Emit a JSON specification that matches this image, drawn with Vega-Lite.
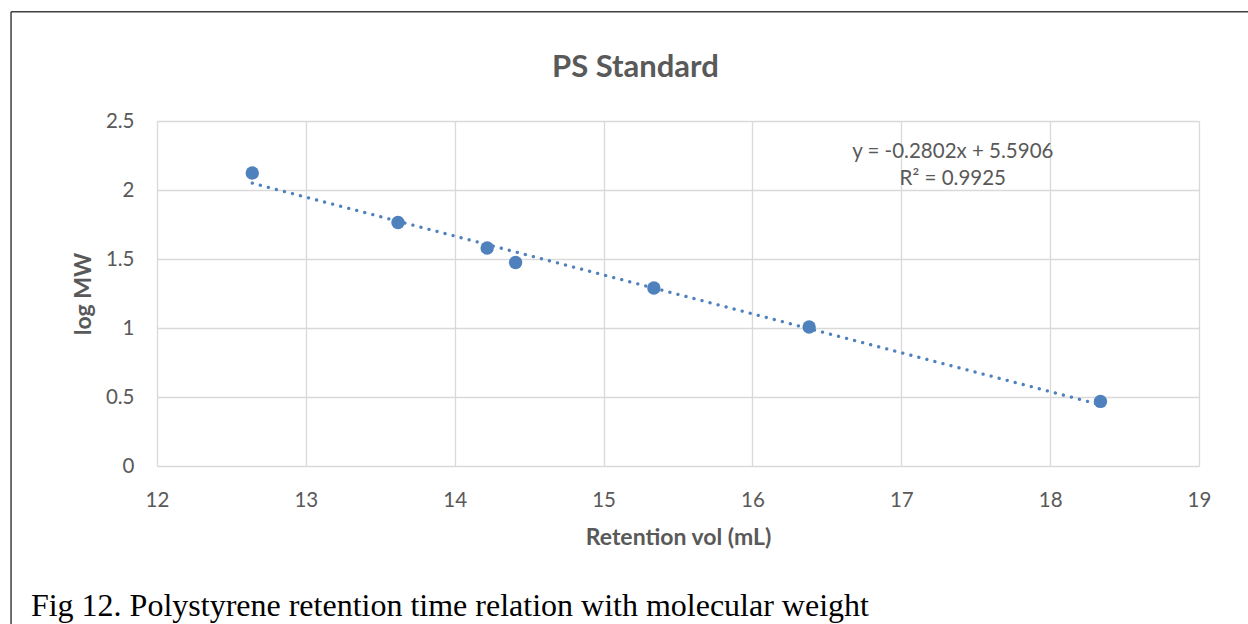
{
  "$schema": "https://vega.github.io/schema/vega-lite/v6.json",
  "width": 1042,
  "height": 345,
  "autosize": {"type": "none"},
  "padding": {"left": 157, "top": 121, "right": 49, "bottom": 158},
  "background": "white",
  "config": {
    "view": {"stroke": null},
    "font": "Lato",
    "axis": {
      "grid": true,
      "gridColor": "#d9d9d9",
      "gridWidth": 1.3,
      "domain": false,
      "ticks": false,
      "tickSize": 0,
      "labelFlush": false,
      "labelFont": "Lato",
      "labelFontSize": 20.5,
      "labelColor": "#595959",
      "titleFont": "Lato",
      "titleFontSize": 23,
      "titleFontWeight": "bold",
      "titleColor": "#595959"
    }
  },
  "datasets": {
    "ps": [
      {"rv": 12.64, "logmw": 2.123},
      {"rv": 13.619, "logmw": 1.765},
      {"rv": 14.218, "logmw": 1.58},
      {"rv": 14.409, "logmw": 1.475},
      {"rv": 15.338, "logmw": 1.29},
      {"rv": 16.381, "logmw": 1.007},
      {"rv": 18.338, "logmw": 0.468}
    ],
    "one": [{}]
  },
  "layer": [
    {
      "data": {"name": "ps"},
      "transform": [{"regression": "logmw", "on": "rv"}],
      "mark": {"type": "line", "color": "#4f81bd", "strokeWidth": 3.3, "strokeDash": [0.1, 8.2], "strokeCap": "round"},
      "encoding": {
        "x": {"field": "rv", "type": "quantitative"},
        "y": {"field": "logmw", "type": "quantitative"}
      }
    },
    {
      "data": {"name": "ps"},
      "mark": {"type": "circle", "color": "#4f81bd", "opacity": 1, "size": 180},
      "encoding": {
        "x": {
          "field": "rv",
          "type": "quantitative",
          "scale": {"domain": [12, 19], "nice": false, "zero": false},
          "axis": {"values": [12, 13, 14, 15, 16, 17, 18, 19], "format": "~g", "title": "Retention vol (mL)", "labelPadding": 24, "titlePadding": 16}
        },
        "y": {
          "field": "logmw",
          "type": "quantitative",
          "scale": {"domain": [0, 2.5], "nice": false},
          "axis": {"values": [0, 0.5, 1, 1.5, 2, 2.5], "format": "~g", "title": "log MW", "labelPadding": 23, "titlePadding": 10}
        }
      }
    },
    {
      "data": {"name": "one"},
      "mark": {"type": "text", "text": "PS Standard", "font": "Lato", "fontSize": 31, "fontWeight": "bold", "color": "#595959", "align": "center", "baseline": "alphabetic"},
      "encoding": {"x": {"datum": 15.2136}, "y": {"datum": 2.821}}
    },
    {
      "data": {"name": "one"},
      "mark": {"type": "text", "text": "y = -0.2802x + 5.5906", "font": "Lato", "fontSize": 20.5, "color": "#595959", "align": "center", "baseline": "alphabetic"},
      "encoding": {"x": {"datum": 17.346}, "y": {"datum": 2.232}}
    },
    {
      "data": {"name": "one"},
      "mark": {"type": "text", "text": "R² = 0.9925", "font": "Lato", "fontSize": 20.5, "color": "#595959", "align": "center", "baseline": "alphabetic"},
      "encoding": {"x": {"datum": 17.346}, "y": {"datum": 2.036}}
    },
    {
      "data": {"name": "one"},
      "mark": {"type": "text", "text": "Fig 12. Polystyrene retention time relation with molecular weight", "font": "Liberation Serif", "fontSize": 32, "color": "#000000", "align": "left", "baseline": "alphabetic"},
      "encoding": {"x": {"datum": 11.153}, "y": {"datum": -1.085}}
    },
    {
      "data": {"name": "one"},
      "mark": {"type": "rule", "color": "#404040", "strokeWidth": 1.5},
      "encoding": {"x": {"datum": 11.0195}, "y": {"datum": 3.292}, "y2": {"datum": -1.3}}
    },
    {
      "data": {"name": "one"},
      "mark": {"type": "rule", "color": "#404040", "strokeWidth": 1.5},
      "encoding": {"x": {"datum": 11.0195}, "x2": {"datum": 19.5}, "y": {"datum": 3.292}}
    }
  ]
}
